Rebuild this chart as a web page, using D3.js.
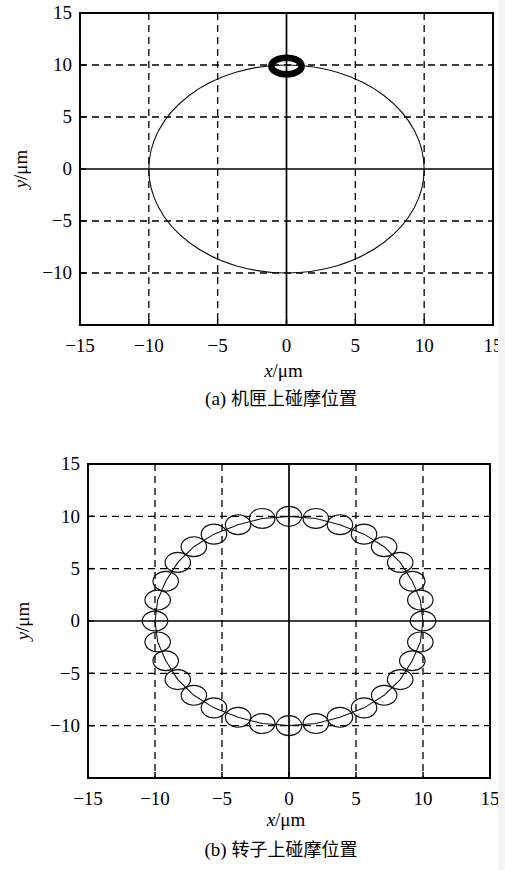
<!DOCTYPE html>
<html>
<head>
<meta charset="utf-8">
<script src="https://cdn.jsdelivr.net/npm/d3@7/dist/d3.min.js"></script>
<style>
  html, body { margin: 0; padding: 0; background: #ffffff; }
  svg { display: block; }
</style>
</head>
<body>
<div id="chart"></div>
<script>
// tick values shared by both panels
var xTicks = [-15, -10, -5, 0, 5, 10, 15];
var yTicks = [-10, -5, 0, 5, 10, 15];
var gridVals = [-10, -5, 5, 10];

// (a) rub track on the casing: one large orbit and a small thick rub loop at the top
var caseOrbitCenter = [0, 0];
var caseOrbitRadius = 10;
var caseRubCenter = [0, 9.9];
var caseRubRadii = [1.1, 0.8];

// (b) rub positions on the rotor: 32 small circles round the orbit
var rotorRubX = [10, 9.8, 9.2, 8.3, 7.1, 5.6, 3.8, 2.0, 0, -2.0, -3.8, -5.6, -7.1, -8.3, -9.2, -9.8,
                 -10, -9.8, -9.2, -8.3, -7.1, -5.6, -3.8, -2.0, 0, 2.0, 3.8, 5.6, 7.1, 8.3, 9.2, 9.8];
var rotorRubY = [0, 2.0, 3.8, 5.6, 7.1, 8.3, 9.2, 9.8, 10, 9.8, 9.2, 8.3, 7.1, 5.6, 3.8, 2.0,
                 0, -2.0, -3.8, -5.6, -7.1, -8.3, -9.2, -9.8, -10, -9.8, -9.2, -8.3, -7.1, -5.6, -3.8, -2.0];
var rotorRubRadius = 0.95;

var captions = ['(a) ', '(b) '];
var captionsCjk = ['机匣上碰摩位置', '转子上碰摩位置'];

(function(){
    'use strict';

    var W = 505, H = 870;
    var serif = "'Liberation Serif', 'DejaVu Serif', serif";
    var cjk = "'Noto Sans CJK SC', sans-serif";

    var svg = d3.select('#chart').append('svg')
        .attr('width', W).attr('height', H)
        .attr('viewBox', '0 0 ' + W + ' ' + H);
    svg.append('rect').attr('width', W).attr('height', H).attr('fill', '#ffffff');

    var panels = [
        { left: 80, right: 493, top: 13, bottom: 325, ylabX: 27, xlabY: 377, capY: 405 },
        { left: 88, right: 490, top: 464, bottom: 778, ylabX: 29, xlabY: 826, capY: 856 }
    ];

    function drawFrame(p, idx) {
        var g = svg.append('g');
        var x = d3.scaleLinear().domain([-15, 15]).range([p.left, p.right]);
        var y = d3.scaleLinear().domain([-15, 15]).range([p.bottom, p.top]);
        p.x = x; p.y = y; p.g = g;

        // dashed grid
        g.selectAll('line.gx').data(gridVals).enter().append('line')
            .attr('x1', function(d) { return x(d); }).attr('x2', function(d) { return x(d); })
            .attr('y1', p.top).attr('y2', p.bottom)
            .attr('stroke', '#000').attr('stroke-width', 1.3).attr('stroke-dasharray', '7,5');
        g.selectAll('line.gy').data(gridVals).enter().append('line')
            .attr('y1', function(d) { return y(d); }).attr('y2', function(d) { return y(d); })
            .attr('x1', p.left).attr('x2', p.right)
            .attr('stroke', '#000').attr('stroke-width', 1.3).attr('stroke-dasharray', '7,5');

        // zero axes
        g.append('line').attr('x1', x(0)).attr('x2', x(0)).attr('y1', p.top).attr('y2', p.bottom)
            .attr('stroke', '#000').attr('stroke-width', 1.7);
        g.append('line').attr('y1', y(0)).attr('y2', y(0)).attr('x1', p.left).attr('x2', p.right)
            .attr('stroke', '#000').attr('stroke-width', 1.7);

        // inward ticks
        g.selectAll('line.tx').data(xTicks).enter().append('line')
            .attr('x1', function(d) { return x(d); }).attr('x2', function(d) { return x(d); })
            .attr('y1', p.bottom).attr('y2', p.bottom - 6)
            .attr('stroke', '#000').attr('stroke-width', 1.5);
        g.selectAll('line.ty').data(yTicks).enter().append('line')
            .attr('y1', function(d) { return y(d); }).attr('y2', function(d) { return y(d); })
            .attr('x1', p.left).attr('x2', p.left + 6)
            .attr('stroke', '#000').attr('stroke-width', 1.5);

        // tick labels
        g.selectAll('text.tx').data(xTicks).enter().append('text')
            .attr('x', function(d) { return x(d); }).attr('y', p.bottom + 27)
            .attr('text-anchor', 'middle').attr('font-family', serif).attr('font-size', '19px')
            .text(function(d) { return d < 0 ? '\u2212' + (-d) : d; });
        g.selectAll('text.ty').data(yTicks).enter().append('text')
            .attr('x', p.left - 8).attr('y', function(d) { return y(d); }).attr('dy', '0.34em')
            .attr('text-anchor', 'end').attr('font-family', serif).attr('font-size', '19px')
            .text(function(d) { return d < 0 ? '\u2212' + (-d) : d; });

        // axis titles
        var xl = g.append('text').attr('x', (p.left + p.right) / 2 - 3).attr('y', p.xlabY)
            .attr('text-anchor', 'middle').attr('font-family', serif).attr('font-size', '19px');
        xl.append('tspan').attr('font-style', 'italic').text('x');
        xl.append('tspan').text('/\u03bcm');

        var cy = (p.top + p.bottom) / 2;
        var yl = g.append('text').attr('transform', 'translate(' + p.ylabX + ',' + cy + ') rotate(-90)')
            .attr('text-anchor', 'middle').attr('font-family', serif).attr('font-size', '19px');
        yl.append('tspan').attr('font-style', 'italic').text('y');
        yl.append('tspan').text('/\u03bcm');

        // caption
        var cap = g.append('text').attr('x', 281).attr('y', p.capY)
            .attr('text-anchor', 'middle').attr('font-size', '18px');
        cap.append('tspan').attr('font-family', serif).attr('font-size', '19px').text(captions[idx]);
        cap.append('tspan').attr('font-family', cjk).text(captionsCjk[idx]);
    }

    function drawBorder(p) {
        p.g.append('rect').attr('x', p.left).attr('y', p.top)
            .attr('width', p.right - p.left).attr('height', p.bottom - p.top)
            .attr('fill', 'none').attr('stroke', '#000').attr('stroke-width', 2);
    }

    panels.forEach(drawFrame);

    // (a)
    var a = panels[0];
    a.g.append('ellipse')
        .attr('cx', a.x(caseOrbitCenter[0])).attr('cy', a.y(caseOrbitCenter[1]))
        .attr('rx', a.x(caseOrbitRadius) - a.x(0)).attr('ry', a.y(0) - a.y(caseOrbitRadius))
        .attr('fill', 'none').attr('stroke', '#111').attr('stroke-width', 1.1);
    a.g.append('ellipse')
        .attr('cx', a.x(caseRubCenter[0])).attr('cy', a.y(caseRubCenter[1]))
        .attr('rx', a.x(caseRubRadii[0]) - a.x(0)).attr('ry', a.y(0) - a.y(caseRubRadii[1]))
        .attr('fill', 'none').attr('stroke', '#000').attr('stroke-width', 6.5);
    drawBorder(a);

    // (b)
    var b = panels[1];
    var pts = rotorRubX.map(function(d, i) { return [d, rotorRubY[i]]; });
    var line = d3.line().x(function(d) { return b.x(d[0]); }).y(function(d) { return b.y(d[1]); })
        .curve(d3.curveLinearClosed);
    b.g.append('path').attr('d', line(pts))
        .attr('fill', 'none').attr('stroke', '#111').attr('stroke-width', 1.1);
    b.g.selectAll('ellipse.rub').data(pts).enter().append('ellipse')
        .attr('cx', function(d) { return b.x(d[0]); }).attr('cy', function(d) { return b.y(d[1]); })
        .attr('rx', b.x(rotorRubRadius) - b.x(0)).attr('ry', b.y(0) - b.y(rotorRubRadius))
        .attr('fill', 'none').attr('stroke', '#111').attr('stroke-width', 1.2);
    drawBorder(b);

    // light strip down the right edge of the scan
    svg.append('rect').attr('x', 498).attr('y', 0).attr('width', W - 498).attr('height', H)
        .attr('fill', '#f3f3f3');
})();
</script>
</body>
</html>
